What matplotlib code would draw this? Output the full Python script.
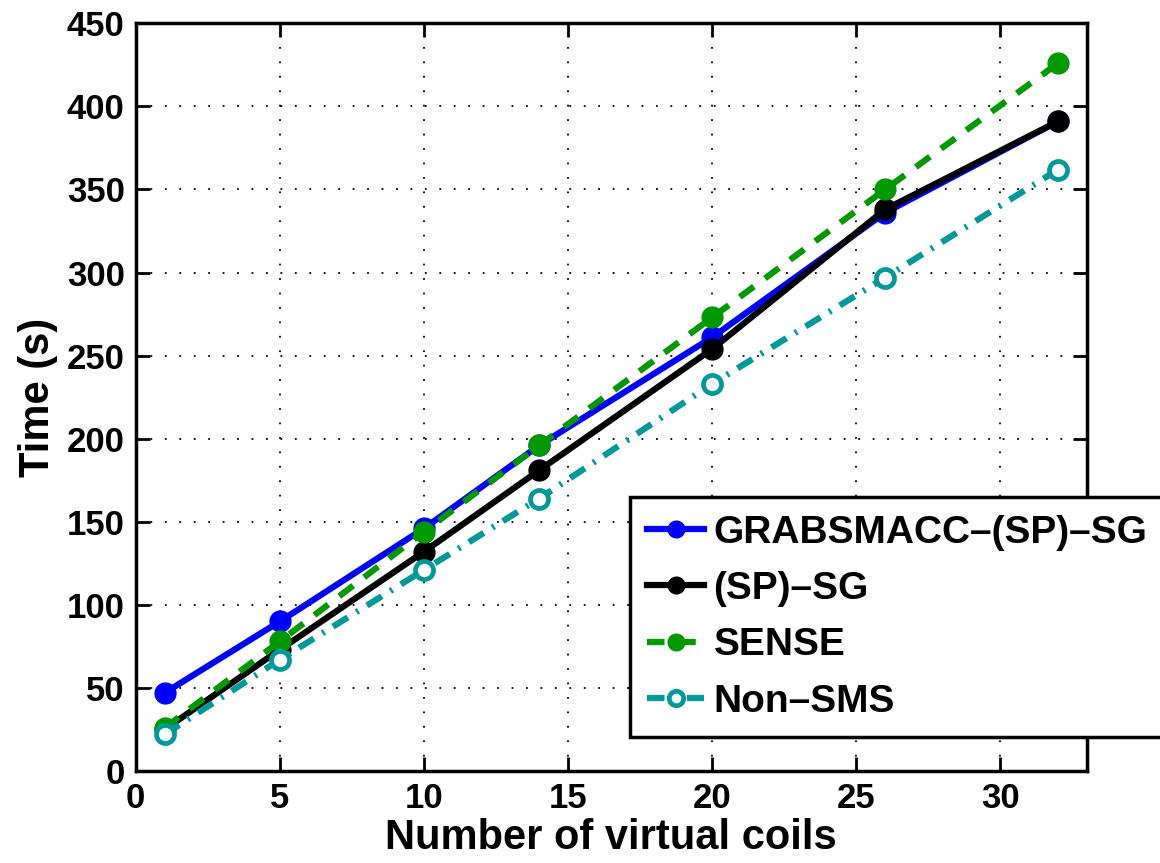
import matplotlib.pyplot as plt
import numpy as np

plt.rcParams['font.family'] = ['Liberation Sans', 'DejaVu Sans']
plt.rcParams['font.weight'] = 'bold'

# data
coils = [1, 5, 10, 14, 20, 26, 32]
grabsmacc = [47, 90, 146, 196, 261, 336, 391]
sp_sg = [25, 73, 132, 181, 254, 338, 391]
sense = [26, 78, 144, 196, 273, 350, 426]
non_sms = [22, 67, 121, 164, 233, 297, 362]

labels = ['GRABSMACC\u2013(SP)\u2013SG', '(SP)\u2013SG', 'SENSE', 'Non\u2013SMS']
xticks = [0, 5, 10, 15, 20, 25, 30]
yticks = [0, 50, 100, 150, 200, 250, 300, 350, 400, 450]

fig = plt.figure(figsize=(11.6, 8.63), dpi=100)
ax = fig.add_axes([0.117, 0.1066, 0.82, 0.8664])

lw = 4.5
ax.plot(coils, grabsmacc, '-o', color=(0, 0, 1), lw=lw, ms=15, label=labels[0], zorder=3)
ax.plot(coils, sp_sg, '-o', color='black', lw=lw, ms=15, label=labels[1], zorder=4)
ax.plot(coils, sense, 'o', color=(0, 0.6, 0), ls=(0, (2.8, 2.2)), lw=lw, ms=15,
        label=labels[2], zorder=5)
ax.plot(coils, non_sms, 'o', color=(0, 0.6, 0.6), ls=(0, (2.8, 1.6, 0.4, 1.6)), lw=lw,
        ms=13, mfc='white', mew=3.4, label=labels[3], zorder=6)

ax.set_xlim(0, 33)
ax.set_ylim(0, 450)
ax.set_xticks(xticks)
ax.set_yticks(yticks)
ax.tick_params(direction='in', length=10, width=2, labelsize=25, top=True, right=True, pad=8)
for s in ax.spines.values():
    s.set_linewidth(2.5)

ax.grid(True, color='black', linestyle=(0, (1, 7)), linewidth=1.3)

ax.set_xlabel('Number of virtual coils', fontsize=30, fontweight='bold', labelpad=2)
ax.set_ylabel('Time (s)', fontsize=30, fontweight='bold', labelpad=6)

leg = ax.legend(loc='lower left', bbox_to_anchor=(0.543, 0.146), bbox_transform=fig.transFigure,
                fontsize=28, handlelength=1.45, handletextpad=0.25, labelspacing=0.52,
                borderpad=0.45, borderaxespad=0, fancybox=False, framealpha=1,
                markerscale=0.8)
leg.get_frame().set_edgecolor('black')
leg.get_frame().set_linewidth(2.5)

fig.savefig('out.png', dpi=100)
